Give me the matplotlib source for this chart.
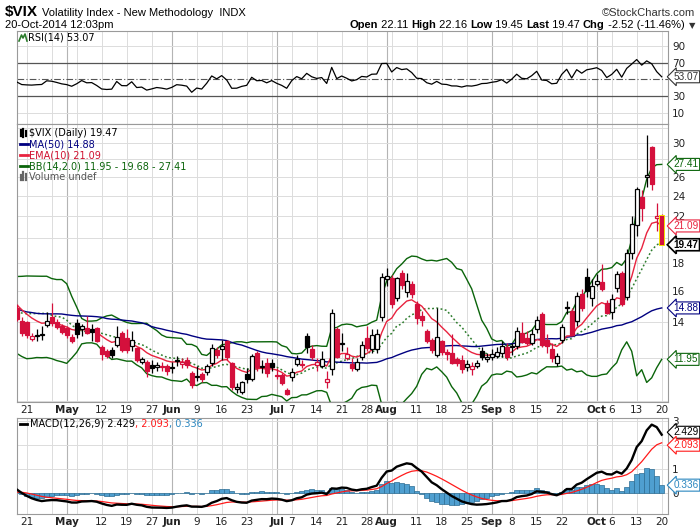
import numpy as np
import pandas as pd
import matplotlib
matplotlib.use("Agg")
import matplotlib.pyplot as plt
from matplotlib.patches import Rectangle
from matplotlib.lines import Line2D
import matplotlib.transforms as mtransforms

# ---------------- data ----------------
# closes before the visible window (Jan 2 - Apr 15 2014), only used to seed the indicators
warmup_close = [14.23, 13.76, 13.55, 12.92, 12.87, 12.89, 12.14, 13.28, 12.28, 12.28,
                12.53, 12.44, 12.87, 12.84, 13.77, 18.14, 17.42, 15.80, 17.35, 17.29,
                18.41, 21.44, 19.11, 19.95, 17.23, 15.29, 15.81, 14.51, 14.30, 14.14,
                13.57, 13.87, 15.50, 14.79, 14.68, 14.23, 13.67, 14.35, 14.04, 14.00,
                16.00, 14.10, 13.89, 14.21, 14.11, 14.20, 14.80, 14.47, 16.22, 17.82,
                15.64, 14.52, 15.12, 14.52, 15.00, 15.09, 14.02, 14.93, 14.62, 14.41,
                13.88, 13.10, 13.09, 13.37, 13.96, 15.57, 14.89, 13.82, 15.89, 17.03,
                16.11, 15.61]

start_date = "2014-04-16"
end_date = "2014-10-20"
holidays = ["2014-04-18", "2014-05-26", "2014-07-04", "2014-09-01"]

open_ = [14.90, 14.10, 14.00, 13.05, 13.22, 13.28, 13.85, 14.30, 14.00, 13.75,
         13.65, 13.15, 13.95, 13.60, 13.66, 13.60, 13.65, 12.60, 12.40, 12.45,
         12.70, 13.40, 13.10, 12.65, 12.55, 11.80, 11.80, 11.67, 11.55, 11.62,
         11.60, 11.52, 11.90, 11.72, 11.90, 11.30, 11.10, 11.25, 11.35, 11.75,
         12.45, 12.50, 12.90, 11.75, 10.55, 10.40, 11.25, 10.98, 12.30, 11.55,
         11.75, 11.75, 11.20, 11.20, 10.50, 11.10, 11.70, 11.72, 13.20, 12.50,
         11.65, 11.60, 10.85, 11.45, 13.60, 12.78, 12.00, 11.70, 11.45, 12.10,
         13.10, 12.50, 12.50, 14.30, 16.80, 16.90, 15.50, 17.25, 15.90, 16.50,
         15.10, 14.40, 13.50, 13.00, 12.20, 12.90, 12.35, 12.30, 11.95, 11.90,
         11.55, 11.45, 11.60, 12.40, 11.95, 12.10, 12.15, 12.30, 12.60, 12.60,
         12.65, 13.40, 13.10, 12.80, 13.60, 14.50, 13.00, 12.50, 11.75, 13.00,
         14.85, 14.70, 14.05, 15.80, 17.00, 15.50, 16.50, 16.60, 15.20, 14.60,
         16.20, 17.30, 15.60, 18.80, 21.20, 23.90, 26.00, 29.50, 21.85, 22.11]
high = [15.10, 14.30, 14.10, 13.40, 13.60, 13.80, 14.60, 15.20, 14.20, 13.90,
        13.80, 13.30, 14.20, 13.90, 14.40, 13.90, 13.70, 12.70, 12.50, 12.60,
        13.80, 13.50, 13.60, 13.50, 12.60, 12.10, 11.90, 11.90, 11.80, 11.80,
        11.70, 11.80, 12.15, 12.00, 12.10, 11.40, 11.60, 11.35, 11.70, 12.75,
        12.60, 13.00, 13.00, 11.80, 10.80, 10.90, 11.50, 12.25, 12.40, 11.90,
        12.00, 11.95, 11.50, 11.30, 10.60, 11.50, 12.20, 11.90, 13.40, 12.70,
        12.00, 12.40, 11.40, 14.80, 13.70, 13.40, 12.60, 12.00, 12.00, 12.90,
        13.80, 13.60, 13.60, 17.30, 17.60, 17.10, 17.00, 17.50, 17.30, 16.70,
        15.30, 14.70, 13.60, 13.10, 14.90, 13.00, 12.50, 13.30, 12.10, 12.20,
        11.90, 11.80, 11.90, 12.60, 12.30, 12.50, 12.60, 12.90, 12.80, 12.80,
        13.70, 14.00, 13.50, 13.60, 14.40, 14.60, 13.30, 12.80, 12.30, 13.90,
        15.30, 14.90, 15.90, 16.10, 17.60, 16.80, 17.20, 17.90, 15.40, 15.80,
        17.40, 17.40, 19.10, 22.00, 24.90, 24.60, 31.06, 29.70, 23.30, 22.16]
low = [14.10, 13.20, 13.10, 12.95, 12.90, 13.00, 13.70, 13.80, 13.60, 13.30,
       13.10, 12.80, 13.10, 13.20, 13.30, 12.90, 12.85, 11.90, 12.00, 12.00,
       12.60, 12.35, 12.30, 12.40, 11.80, 11.70, 11.10, 11.30, 11.40, 11.40,
       11.20, 11.30, 11.60, 11.50, 11.50, 10.60, 10.90, 10.85, 11.20, 11.60,
       12.00, 11.90, 11.90, 10.50, 10.35, 10.30, 10.80, 10.90, 11.40, 11.30,
       11.10, 11.40, 11.00, 10.70, 10.25, 10.90, 11.60, 11.50, 12.30, 11.90,
       11.40, 11.50, 10.60, 11.20, 12.00, 12.40, 11.90, 11.40, 11.40, 11.90,
       12.40, 12.30, 12.30, 14.10, 16.30, 14.90, 15.30, 16.10, 15.60, 15.50,
       13.90, 13.80, 12.80, 12.30, 12.10, 12.20, 11.90, 11.70, 11.60, 11.30,
       11.40, 11.20, 11.50, 11.90, 11.80, 11.90, 12.00, 12.10, 11.90, 12.20,
       12.50, 12.80, 12.70, 12.70, 13.40, 12.60, 12.30, 11.80, 11.60, 12.80,
       14.50, 13.20, 13.80, 14.70, 15.60, 15.00, 16.30, 16.00, 14.50, 14.20,
       15.90, 15.00, 15.40, 18.30, 20.20, 21.50, 24.90, 24.60, 20.60, 19.45]
close = [14.18, 13.36, 13.25, 13.19, 13.27, 13.32, 14.06, 13.97, 13.71, 13.41,
         13.25, 12.91, 13.29, 13.80, 13.40, 13.43, 12.92, 12.23, 12.13, 12.17,
         13.17, 12.44, 12.42, 12.96, 11.91, 11.97, 11.36, 11.51, 11.68, 11.57,
         11.40, 11.58, 11.87, 11.80, 11.68, 10.73, 11.15, 10.99, 11.60, 12.56,
         12.18, 12.65, 12.06, 10.61, 10.62, 10.85, 10.98, 12.13, 11.59, 11.63,
         11.26, 11.57, 11.15, 10.82, 10.32, 11.33, 11.98, 11.65, 12.59, 12.08,
         11.82, 11.96, 11.00, 14.54, 12.06, 12.81, 12.24, 11.52, 11.84, 12.69,
         12.56, 13.28, 13.33, 16.95, 17.03, 15.12, 16.87, 16.37, 16.66, 15.77,
         14.23, 14.13, 12.90, 12.42, 13.15, 12.32, 12.21, 11.78, 11.76, 11.47,
         11.70, 11.63, 11.78, 12.05, 12.09, 12.25, 12.36, 12.64, 12.09, 12.66,
         13.50, 12.88, 12.80, 13.31, 14.12, 12.73, 12.65, 12.03, 12.11, 13.69,
         14.93, 13.27, 15.64, 14.85, 15.98, 16.31, 16.71, 16.16, 14.55, 15.46,
         17.20, 15.11, 18.76, 21.24, 24.64, 22.79, 26.25, 25.20, 21.99, 19.47]

tick_dates = ["2014-04-21", "2014-05-01", "2014-05-12", "2014-05-19", "2014-05-27",
              "2014-06-02", "2014-06-09", "2014-06-16", "2014-06-23", "2014-07-01",
              "2014-07-07", "2014-07-14", "2014-07-21", "2014-07-28", "2014-08-01",
              "2014-08-11", "2014-08-18", "2014-08-25", "2014-09-02", "2014-09-08",
              "2014-09-15", "2014-09-22", "2014-10-01", "2014-10-06", "2014-10-13",
              "2014-10-20"]
tick_labels = ["21", "May", "12", "19", "27", "Jun", "9", "16", "23", "Jul", "7", "14",
               "21", "28", "Aug", "11", "18", "25", "Sep", "8", "15", "22", "Oct", "6",
               "13", "20"]
month_labels = ["May", "Jun", "Jul", "Aug", "Sep", "Oct"]

price_ticks = [14, 16, 18, 22, 24, 26, 30]
price_grid = [10, 12, 14, 16, 18, 20, 22, 24, 26, 28, 30, 32]
rsi_ticks = [10, 30, 70, 90]
rsi_grid = [10, 90]
macd_ticks = [0, 1, 3]
macd_grid = [0, 1, 2, 3]

last_vals = {"ma": "14.88", "ema": "21.09", "bbl": "11.95", "bbm": "19.68", "bbu": "27.41",
             "last": "19.47", "rsi": "53.07", "macd": "2.429", "sig": "2.093",
             "hist": "0.336"}

# ---------------- dates / positions ----------------
dates = pd.bdate_range(start_date, end_date)
dates = dates[~dates.isin(pd.to_datetime(holidays))]
n = len(dates)
pos = np.arange(n)
date_to_pos = {d.strftime("%Y-%m-%d"): i for i, d in enumerate(dates)}

# ---------------- indicators ----------------
allc = pd.Series(warmup_close + close, dtype=float)
nw = len(warmup_close)
ma50 = allc.rolling(50).mean().values[nw:]
ema10 = allc.ewm(span=10, adjust=False).mean().values[nw:]
sma14 = allc.rolling(14).mean()
sd14 = allc.rolling(14).std(ddof=0)
bbu = (sma14 + 2 * sd14).values[nw:]
bbl = (sma14 - 2 * sd14).values[nw:]
bbm = sma14.values[nw:]
delta = allc.diff()
gain = delta.clip(lower=0)
loss = (-delta).clip(lower=0)
ag = gain.ewm(alpha=1 / 14, adjust=False).mean()
al = loss.ewm(alpha=1 / 14, adjust=False).mean()
rsi = (100 - 100 / (1 + ag / al)).values[nw:]
ema12 = allc.ewm(span=12, adjust=False).mean()
ema26 = allc.ewm(span=26, adjust=False).mean()
macd_s = ema12 - ema26
sig_s = macd_s.ewm(span=9, adjust=False).mean()
macd = macd_s.values[nw:]
sig = sig_s.values[nw:]
hist = macd - sig

# ---------------- figure ----------------
W, H = 700, 530
fig = plt.figure(figsize=(W / 100, H / 100), dpi=100)
fig.patch.set_facecolor("white")

def fx(x):
    return x / W

def fy(y):
    return 1 - y / H

LEFT, RIGHT = 17, 668
ax_rsi = fig.add_axes([fx(LEFT), fy(124), (RIGHT - LEFT) / W, (124 - 31) / H])
ax = fig.add_axes([fx(LEFT), fy(402), (RIGHT - LEFT) / W, (402 - 124) / H])
ax_m = fig.add_axes([fx(LEFT), fy(514), (RIGHT - LEFT) / W, (514 - 418) / H])

XL = (0.06, n + 0.26)
GRID = "#dcdcdc"
MGRID = "#b4b4b4"
RED = "#d4103c"
EMA_C = "#e8233f"
NAVY = "#000080"
GREEN = "#0a640a"
BLUE_T = "#2a86bf"
TAGFONT = ["Liberation Sans", "DejaVu Sans"]

week_pos = []
prev_week = None
for i, d in enumerate(dates):
    wk = d.isocalendar()[1]
    if wk != prev_week:
        week_pos.append(i)
    prev_week = wk
month_pos = []
prev_m = None
for i, d in enumerate(dates):
    if d.month != prev_m and i > 0:
        month_pos.append(i)
    prev_m = d.month

for a in (ax_rsi, ax, ax_m):
    a.set_xlim(*XL)
    a.set_facecolor("white")
    for p in week_pos:
        a.axvline(p, color=GRID, lw=0.7, zorder=0)
    for p in month_pos:
        a.axvline(p, color=MGRID, lw=0.8, zorder=0)
    for s in a.spines.values():
        s.set_color("#9a9a9a")
        s.set_linewidth(0.8)
    a.yaxis.tick_right()
    a.tick_params(axis="y", length=0, pad=3, labelsize=7.5, labelcolor="#222222")
    a.tick_params(axis="x", length=0, pad=2, labelsize=7.5, labelcolor="#222222")

# ---- RSI panel ----
ax_rsi.set_ylim(-3.6, 108)
for v in rsi_grid:
    ax_rsi.axhline(v, color=GRID, lw=0.7, zorder=0)
for v in (30, 70):
    ax_rsi.axhline(v, color="#555555", lw=0.9, zorder=1)
ax_rsi.axhline(50, color="#555555", lw=0.8, ls=(0, (6, 2, 1, 2)), zorder=1)
ax_rsi.plot(pos, rsi, color="black", lw=0.9, zorder=3)
ax_rsi.set_yticks(rsi_ticks)
ax_rsi.set_xticks([])

# ---- price panel ----
ax.set_yscale("log")
ax.set_ylim(9.97, 32.55)
for v in price_grid:
    ax.axhline(v, color=GRID, lw=0.7, zorder=0)
ax.set_yticks(price_ticks)
ax.set_yticklabels([str(v) for v in price_ticks])
ax.yaxis.set_minor_locator(matplotlib.ticker.NullLocator())

ax.plot(pos, bbu, color=GREEN, lw=1.0, zorder=2)
ax.plot(pos, bbl, color=GREEN, lw=1.0, zorder=2)
ax.plot(pos, bbm, color="#2e7d2e", lw=1.1, ls=(0, (1.2, 1.6)), zorder=2)
ax.plot(pos, ma50, color=NAVY, lw=1.0, zorder=2)
ax.plot(pos, ema10, color=EMA_C, lw=1.0, zorder=2)

prev_c = [warmup_close[-1]] + close[:-1]
for i in range(n):
    o, h, l, c = open_[i], high[i], low[i], close[i]
    col = RED if c < prev_c[i] else "black"
    hollow = c >= o
    ax.vlines(pos[i], min(l, o, c), max(h, o, c), color=col, lw=0.9, zorder=3)
    bot, top = min(o, c), max(o, c)
    if top - bot < 0.02:
        ax.hlines(c, pos[i] - 0.4, pos[i] + 0.4, color=col, lw=1.2, zorder=4)
        continue
    ec = col
    lw = 0.9
    wdt = 0.72
    if i == n - 1:
        ec = "#f0e000"
        lw = 0.7
        wdt = 0.9
    ax.add_patch(Rectangle((pos[i] - wdt / 2, bot), wdt, top - bot,
                           facecolor="white" if hollow else col,
                           edgecolor=ec, lw=lw, zorder=4))

# ---- MACD panel ----
ax_m.set_ylim(-0.86, 3.12)
for v in macd_grid:
    ax_m.axhline(v, color=GRID, lw=0.7, zorder=0)
ax_m.bar(pos, hist, width=1.0, color="#4f9fd0", edgecolor="#2c6d93", lw=0.5, zorder=2)
ax_m.plot(pos, sig, color="#ff1a1a", lw=0.9, zorder=3)
ax_m.plot(pos, macd, color="black", lw=1.7, zorder=4)
ax_m.set_yticks(macd_ticks)

# ---- x tick labels ----
tpos = [date_to_pos[d] for d in tick_dates]
for a in (ax, ax_m):
    a.set_xticks(tpos)
    a.set_xticklabels(tick_labels)
    for t in a.get_xticklabels():
        if t.get_text() in month_labels:
            t.set_fontweight("bold")

# ---- right side value tags ----
def tag(a, y, s, col, bold=False, lw=0.8):
    tr = mtransforms.blended_transform_factory(a.transAxes, a.transData)
    a.text(1.0085, y, s, transform=tr, ha="left", va="center", fontsize=7.2,
           family=TAGFONT, color="black" if bold else col,
           fontweight="bold" if bold else "normal", zorder=10, clip_on=False,
           bbox=dict(boxstyle="larrow,pad=0.1", fc="white", ec=col, lw=lw))

tag(ax, bbu[-1], last_vals["bbu"], GREEN)
tag(ax, ema10[-1], last_vals["ema"], EMA_C)
tag(ax, close[-1], last_vals["last"], "black", bold=True, lw=1.2)
tag(ax, ma50[-1], last_vals["ma"], NAVY)
tag(ax, bbl[-1], last_vals["bbl"], GREEN)
tag(ax_rsi, rsi[-1], last_vals["rsi"], "#333333")
tag(ax_m, macd[-1] + 0.1, last_vals["macd"], "black")
tag(ax_m, sig[-1] - 0.1, last_vals["sig"], "#ff1a1a")
tag(ax_m, hist[-1], last_vals["hist"], BLUE_T)

# ---- panel legends ----
LF = 7
def ftext(x, y, s, **kw):
    kw.setdefault("fontsize", LF)
    return fig.text(fx(x), fy(y), s, va="center", ha="left", **kw)

def fline(x0, x1, y, col, lw=2.0):
    fig.add_artist(Line2D([fx(x0), fx(x1)], [fy(y), fy(y)], color=col, lw=lw,
                          transform=fig.transFigure))

# RSI label with small icon
fig.add_artist(Line2D([fx(19), fx(21.5), fx(23), fx(25), fx(27)],
                      [fy(41), fy(35), fy(38), fy(34), fy(41)], color="#2e7d2e", lw=1.2,
                      transform=fig.transFigure))
ftext(28, 37.5, "RSI(14) " + last_vals["rsi"], color="black")

# price legend
for xx, yy, hh in [(20.5, 133, 6), (23, 133, 8), (25.5, 133, 5)]:
    fig.add_artist(Line2D([fx(xx), fx(xx)], [fy(yy - hh / 2), fy(yy + hh / 2)],
                          color="black", lw=1.6, transform=fig.transFigure))
ftext(29, 133, "$VIX (Daily) " + last_vals["last"], color="black")
fline(20, 28, 144.3, NAVY)
ftext(29, 144.3, "MA(50) " + last_vals["ma"], color=NAVY)
fline(20, 28, 155.3, EMA_C)
ftext(29, 155.3, "EMA(10) " + last_vals["ema"], color="#d0102f")
fline(20, 28, 166.3, GREEN)
ftext(29, 166.3, "BB(14,2.0) %s - %s - %s" % (last_vals["bbl"], last_vals["bbm"],
                                             last_vals["bbu"]), color=GREEN)
for xx, hh in [(20.5, 5), (23, 8), (25.5, 6)]:
    fig.add_artist(Line2D([fx(xx), fx(xx)], [fy(180), fy(180 - hh)], color="#666666",
                          lw=1.6, transform=fig.transFigure))
ftext(29, 176.7, "Volume undef", color="#555555")

# MACD legend
fline(20, 27, 424, "black")
r = fig.canvas.get_renderer()
x = 30
for s, col in [("MACD(12,26,9) " + last_vals["macd"], "black"),
               (", " + last_vals["sig"], "#ff1a1a"), (", " + last_vals["hist"], BLUE_T)]:
    t = ftext(x, 424, s, color=col)
    x += t.get_window_extent(renderer=r).width

# ---- header ----
NARROW = ["Liberation Sans Narrow", "Liberation Sans", "DejaVu Sans"]
t = fig.text(fx(5), fy(12), "$VIX", fontsize=11, fontweight="bold", va="center",
             ha="left", family=NARROW)
x = 5 + t.get_window_extent(renderer=r).width + 4
fig.text(fx(x), fy(12.5), "Volatility Index - New Methodology  INDX", fontsize=8,
         va="center", ha="left", family=NARROW)
fig.text(fx(695), fy(12.5), "\u00a9StockCharts.com", fontsize=8, va="center", ha="right",
         family=NARROW, color="#333333")
fig.text(fx(5), fy(25.5), "20-Oct-2014 12:03pm", fontsize=8, va="center", ha="left",
         family=NARROW)

parts = [("Open", True), (" 22.11 ", False), ("High", True), (" 22.16 ", False),
         ("Low", True), (" 19.45 ", False), ("Last", True), (" 19.47 ", False),
         ("Chg", True), (" -2.52 (-11.46%) ", False)]
widths = []
arts = []
for s, b in parts:
    tt = fig.text(0, fy(25.5), s, fontsize=8, va="center", ha="left", family=NARROW,
                  fontweight="bold" if b else "normal")
    arts.append(tt)
    widths.append(tt.get_window_extent(renderer=r).width)
tri = fig.text(fx(695), fy(25.5), "\u25bc", fontsize=6, va="center", ha="right",
               color="#333333")
xend = 695 - tri.get_window_extent(renderer=r).width - 1
x = xend - sum(widths)
for tt, w in zip(arts, widths):
    tt.set_x(fx(x))
    x += w

fig.savefig("out.png", dpi=100, facecolor="white")
